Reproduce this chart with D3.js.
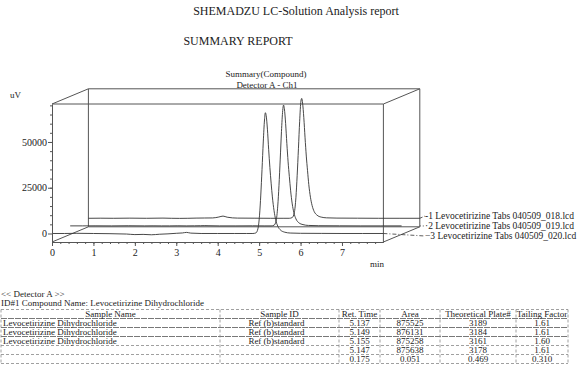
<!DOCTYPE html>
<html>
<head>
<meta charset="utf-8">
<script src="https://cdn.jsdelivr.net/npm/d3@7"></script>
<style>
  body { margin: 0; background: #fff; }
  svg { display: block; font-family: "Liberation Serif", "DejaVu Serif", serif; }
</style>
</head>
<body>
<div id="chart"></div>
<script>
// Waktu retensi (menit) untuk semua kromatogram
var times = [0, 0.3, 0.6, 1.0, 1.4, 1.8, 2.0, 2.2, 2.4, 2.6, 2.8, 3.0, 3.15, 3.25, 3.35, 3.6, 4.0, 4.4, 4.7, 4.85,
  4.92, 4.97, 5.01, 5.04, 5.07, 5.10, 5.13, 5.15, 5.17, 5.20, 5.23, 5.26, 5.29, 5.32, 5.36, 5.40, 5.45, 5.52,
  5.62, 5.75, 6.0, 6.5, 7.0, 7.5, 8.0];

// Sinyal (uV) per file
var trace018 = [0, 50, 0, 80, 0, 100, 0, -50, 0, 100, 150, 200, 700, 1200, 600, 100, 50, 0, 0, 0,
  400, 3000, 11500, 23500, 38000, 53000, 64000, 65500, 63000, 55000, 44000, 34000, 26000, 18500, 11500, 7000, 3700, 1700,
  650, 250, 100, 50, 0, 0, 0];
var trace019 = [0, 0, 50, 0, 80, 0, 50, 0, 0, 60, 0, 50, 100, 150, 100, 0, 0, 50, 0, 0,
  350, 2700, 10800, 22000, 36500, 51500, 63000, 66000, 64000, 56000, 45000, 35000, 27000, 19500, 12000, 7200, 3800, 1700,
  700, 250, 100, 50, 0, 0, 0];
var trace020 = [0, 0, 100, 0, -100, -300, -600, -500, -700, -400, -200, 100, 300, 600, 200, 0, 0, 0, 0, 0,
  300, 2500, 10000, 21000, 35000, 50000, 62000, 66000, 64500, 57000, 46000, 36000, 27500, 20000, 12500, 7500, 4000, 1800,
  700, 250, 100, 50, 0, 0, 0];

var traceNames = ["-1 Levocetirizine  Tabs 040509_018.lcd", "·2 Levocetirizine  Tabs 040509_019.lcd", "\u22123 Levocetirizine  Tabs 040509_020.lcd"];

var yMajor = [0, 25000, 50000];
var xMajor = [0, 1, 2, 3, 4, 5, 6, 7];

// Tabel ringkasan
var tableHeaders = ["Sample Name", "Sample ID", "Ret. Time", "Area", "Theoretical Plate#", "Tailing Factor"];
var sampleNames = ["Levocetirizine Dihydrochloride", "Levocetirizine Dihydrochloride", "Levocetirizine Dihydrochloride", "", ""];
var sampleIds = ["Ref (b)standard", "Ref (b)standard", "Ref (b)standard", "", ""];
var retTimes = ["5.137", "5.149", "5.155", "5.147", "0.175"];
var areas = ["875525", "876131", "875258", "875638", "0.051"];
var plates = ["3189", "3184", "3161", "3178", "0.469"];
var tailings = ["1.61", "1.61", "1.60", "1.61", "0.310"];

var width = 579, height = 376;
var svg = d3.select("#chart").append("svg").attr("width", width).attr("height", height);

var ink = "#222";
var frameCol = "#555";

// Judul
svg.append("text").attr("x", 296).attr("y", 15).attr("text-anchor", "middle")
  .style("font-size", "12px").style("fill", ink).text("SHEMADZU LC-Solution Analysis report");
svg.append("text").attr("x", 238).attr("y", 45).attr("text-anchor", "middle")
  .style("font-size", "12px").style("fill", ink).text("SUMMARY REPORT");
svg.append("text").attr("x", 266).attr("y", 77).attr("text-anchor", "middle")
  .style("font-size", "9px").style("fill", ink).text("Summary(Compound)");
svg.append("text").attr("x", 267).attr("y", 88).attr("text-anchor", "middle")
  .style("font-size", "9px").style("fill", ink).text("Detector A - Ch1");
svg.append("text").attr("x", 10).attr("y", 98)
  .style("font-size", "9px").style("fill", ink).text("uV");

// Skala
var x = d3.scaleLinear().domain([0, 8]).range([52, 383.4]);
var y = d3.scaleLinear().domain([-4650, 70750]).range([242, 104]);
var dx = 18.2, dy = -7.6; // pergeseran kedalaman per kromatogram

var x0 = x.range()[0], x1 = x.range()[1], yb = y.range()[0], yt = y.range()[1];

// Bingkai belakang
var g = svg.append("g").attr("fill", "none").attr("stroke", frameCol).attr("stroke-width", 1);
var bx = 2 * dx, by = 2 * dy;
g.append("path").attr("d", d3.line()([[x0 + bx, yb + by], [x0 + bx, yt + by], [x1 + bx, yt + by], [x1 + bx, yb + by], [x0 + bx, yb + by]]));
g.append("line").attr("x1", x0).attr("y1", yt).attr("x2", x0 + bx).attr("y2", yt + by);
g.append("line").attr("x1", x1).attr("y1", yt).attr("x2", x1 + bx).attr("y2", yt + by);
g.append("line").attr("x1", x0).attr("y1", yb).attr("x2", x0 + bx).attr("y2", yb + by);
g.append("line").attr("x1", x1).attr("y1", yb).attr("x2", x1 + bx).attr("y2", yb + by);
g.append("line").attr("x1", x0).attr("y1", yt).attr("x2", x1).attr("y2", yt);
g.append("line").attr("x1", x1).attr("y1", yt).attr("x2", x1).attr("y2", yb);

// Kromatogram
var traces = [trace018, trace019, trace020];
traces.forEach(function(vals, i) {
  var depth = 2 - i;
  var line = d3.line()
    .x(function(d) { return x(d[0]) + dx * depth; })
    .y(function(d) { return y(d[1]) + dy * depth; })
    .curve(d3.curveMonotoneX);
  var pts = times.map(function(t, k) { return [t, vals[k]]; });
  svg.append("path").datum(pts).attr("d", line)
    .attr("fill", "none").attr("stroke", "#333").attr("stroke-width", 0.9);
});

// Garis penghubung ke legenda
var legendY = [216, 226, 236];
var connStyle = ["3,2", "1,2", "4,2,1,2"];
var connStart = [x1 + 2 * dx, x1 + 2 * dx, x1];
legendY.forEach(function(ly, i) {
  var sy = y(0) + dy * (2 - i);
  svg.append("line").attr("x1", connStart[i]).attr("y1", sy).attr("x2", 425).attr("y2", ly)
    .attr("stroke", "#333").attr("stroke-width", 0.8).attr("stroke-dasharray", connStyle[i]);
  svg.append("text").attr("x", 425).attr("y", ly + 3)
    .style("font-size", "9.5px").style("fill", ink).text(traceNames[i]);
});

// Sumbu Y
svg.append("g").attr("transform", "translate(" + x0 + ",0)")
  .call(d3.axisLeft(y).tickValues(yMajor).tickSize(4).tickSizeOuter(0).tickPadding(1).tickFormat(d3.format("d")));
svg.append("g").attr("transform", "translate(" + x0 + ",0)")
  .call(d3.axisLeft(y).tickValues(d3.range(5000, 70001, 5000)).tickSize(2).tickSizeOuter(0).tickFormat(""))
  .select(".domain").remove();

// Sumbu X
svg.append("g").attr("transform", "translate(0," + yb + ")")
  .call(d3.axisBottom(x).tickValues(xMajor).tickSize(4).tickSizeOuter(0).tickPadding(3).tickFormat(d3.format("d")));
svg.append("g").attr("transform", "translate(0," + yb + ")")
  .call(d3.axisBottom(x).tickValues(d3.range(0.2, 7.9, 0.2)).tickSize(2).tickSizeOuter(0).tickFormat(""))
  .select(".domain").remove();

svg.selectAll(".domain, .tick line").attr("stroke", frameCol);
svg.selectAll(".tick text").style("font-family", "Liberation Serif").style("font-size", "10px").attr("fill", ink);

svg.append("text").attr("x", 377).attr("y", 267).attr("text-anchor", "middle")
  .style("font-size", "9px").style("fill", ink).text("min");

// Bagian tabel
svg.append("text").attr("x", 1).attr("y", 297).style("font-size", "9px").style("fill", ink).text("<< Detector A >>");
svg.append("text").attr("x", 1).attr("y", 306).style("font-size", "9px").style("fill", ink)
  .text("ID#1 Compound Name: Levocetirizine Dihydrochloride");

var colEdges = [1, 220, 339, 380, 440, 516, 568];
var rowEdges = [309.5, 318.5, 327.5, 336.5, 345.5, 354.5, 363.5];
var tg = svg.append("g");
rowEdges.forEach(function(ry, i) {
  tg.append("line").attr("x1", colEdges[0]).attr("x2", colEdges[6]).attr("y1", ry).attr("y2", ry)
    .attr("stroke", i > 0 && i < 4 ? "#555" : "#888").attr("stroke-width", 0.8)
    .attr("stroke-dasharray", i > 0 && i < 4 ? "6,1" : "3,2");
});
colEdges.forEach(function(cx) {
  tg.append("line").attr("x1", cx).attr("x2", cx).attr("y1", rowEdges[0]).attr("y2", rowEdges[6])
    .attr("stroke", "#888").attr("stroke-width", 0.8).attr("stroke-dasharray", "3,2");
});

var columns = [sampleNames, sampleIds, retTimes, areas, plates, tailings];
tableHeaders.forEach(function(h, c) {
  tg.append("text").attr("x", (colEdges[c] + colEdges[c + 1]) / 2).attr("y", rowEdges[0] + 7)
    .attr("text-anchor", "middle").style("font-size", "9px").style("fill", ink).text(h);
});
columns.forEach(function(col, c) {
  col.forEach(function(v, r) {
    var t = tg.append("text").attr("y", rowEdges[r + 1] + 7).style("font-size", "9px").style("fill", ink).text(v);
    if (c === 0) t.attr("x", colEdges[0] + 2);
    else t.attr("x", (colEdges[c] + colEdges[c + 1]) / 2 - (c === 1 ? 3 : 0)).attr("text-anchor", "middle");
  });
});
</script>
</body>
</html>
